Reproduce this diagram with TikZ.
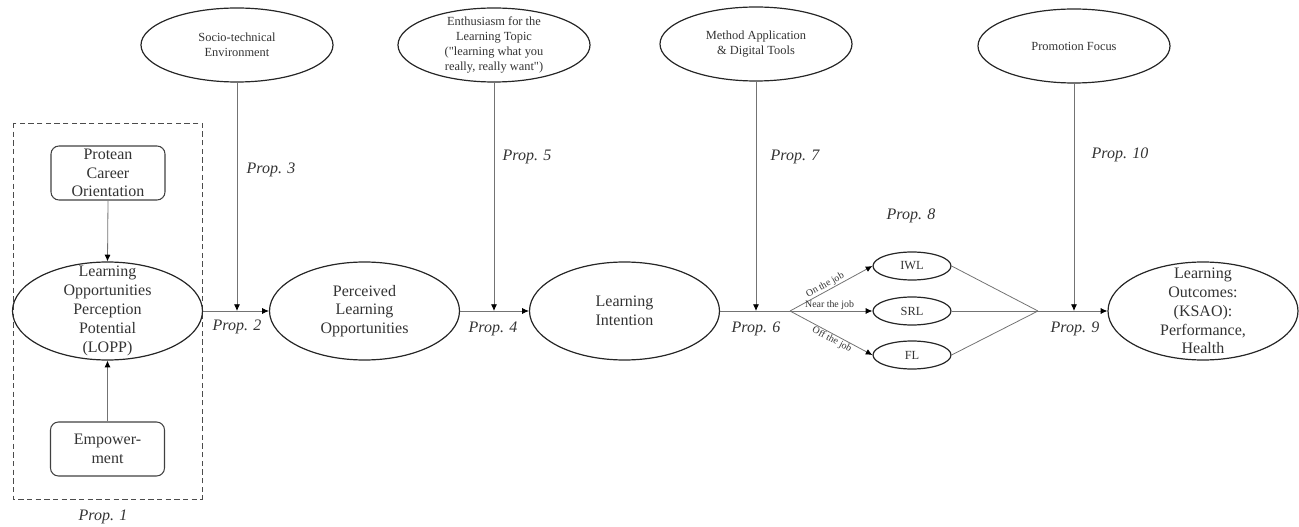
\documentclass[tikz,border=0pt]{standalone}
\usepackage{fontspec}
\setmainfont{Liberation Serif}
\usetikzlibrary{arrows.meta,shapes.geometric}
\begin{document}
\begin{tikzpicture}[x=0.75pt,y=-0.75pt,
  bigel/.style={draw=black!85, line width=0.9pt, ellipse, inner sep=0pt, minimum width=142.5pt, minimum height=73.5pt},
  topel/.style={draw=black!85, line width=0.9pt, ellipse, inner sep=0pt, minimum width=144pt, minimum height=55.5pt},
  smallel/.style={draw=black!85, line width=0.9pt, ellipse, inner sep=0pt, minimum width=58.5pt, minimum height=21pt},
  rbox/.style={draw=black!75, line width=0.8pt, rounded corners=6pt, inner sep=0pt, minimum width=85.5pt, minimum height=40.5pt},
  bigtxt/.style={align=center, text=black!80, font=\fontsize{12}{14.1}\selectfont, inner sep=0pt},
  smalltxt/.style={align=center, text=black!80, font=\fontsize{9.3}{11.3}\selectfont, inner sep=0pt},
  proplbl/.style={text=black!80, font=\fontsize{12}{14}\selectfont\itshape, inner sep=0pt},
  joblbl/.style={text=black!80, font=\fontsize{7.4}{9}\selectfont, inner sep=0.6pt, sloped},
  conn/.style={draw=black!55, line width=0.6pt},
  arr/.style={conn, -{Latex[length=5pt,width=4.5pt,color=black]}},
]
\useasboundingbox (0,0) rectangle (1299,527);

% dashed frame
\draw[black!70, line width=0.6pt, dash pattern=on 4pt off 2.5pt] (13,123) rectangle (202,499);

% left column
\node[rbox] (protean) at (108,173) {};
\node[bigtxt] (protean-t) at (protean) {Protean\\Career\\Orientation};
\node[bigel] (lopp) at (107.5,311) {};
\node[bigtxt] (lopp-t) at (lopp) {Learning\\Opportunities\\Perception\\Potential\\(LOPP)};
\node[rbox] (emp) at (107.5,449) {};
\node[bigtxt] (emp-t) at (emp) {Empower-\\ment};
\node[proplbl] (p1) at (103,517) {Prop. 1};

% main chain
\node[bigel] (perc) at (364.5,311) {};
\node[bigtxt] (perc-t) at (perc) {Perceived\\Learning\\Opportunities};
\node[bigel] (li) at (624.5,311) {};
\node[bigtxt] (li-t) at (li) {Learning\\Intention};
\node[bigel] (lo) at (1203,311) {};
\node[bigtxt] (lo-t) at (lo) {Learning\\Outcomes:\\(KSAO):\\Performance,\\Health};

% small ellipses
\node[smallel] (iwl) at (912,266) {};
\node[smalltxt] (iwl-t) at (iwl) {IWL};
\node[smallel] (srl) at (912,311) {};
\node[smalltxt] (srl-t) at (srl) {SRL};
\node[smallel] (fl) at (912,355) {};
\node[smalltxt] (fl-t) at (fl) {FL};

% top moderators
\node[topel] (socio) at (237,45) {};
\node[smalltxt] (socio-t) at (socio) {Socio-technical\\Environment};
\node[topel] (enth) at (494,45) {};
\node[smalltxt] (enth-t) at (enth) {Enthusiasm for the\\Learning Topic\\(\textquotedbl learning what you\\really, really want\textquotedbl)};
\node[topel] (meth) at (756,44) {};
\node[smalltxt] (meth-t) at (meth) {Method Application\\\&~Digital Tools};
\node[topel] (promo) at (1074,46) {};
\node[smalltxt] (promo-t) at (promo) {Promotion Focus};

% junction coordinates
\coordinate (j2) at (237,311);
\coordinate (j4) at (494,311);
\coordinate (j6) at (756,311);
\coordinate (j9) at (1074,311);
\coordinate (br) at (790,311);
\coordinate (mg) at (1038,311);

% connectors
\draw[arr] (protean.south) -- (lopp.north);
\draw[arr] (emp.north) -- (lopp.south);
\draw[arr] (lopp.east) -- (perc.west);
\draw[arr] (perc.east) -- (li.west);
\draw[conn] (li.east) -- (br);
\draw[arr] (br) -- (iwl.west) node[joblbl, pos=0.46, above] {On the job};
\draw[arr] (br) -- (srl.west) node[joblbl, pos=0.48, above] {Near the job};
\draw[arr] (br) -- (fl.west) node[joblbl, pos=0.54, below] {Off the job};
\draw[conn] (iwl.east) -- (mg);
\draw[conn] (srl.east) -- (mg);
\draw[conn] (fl.east) -- (mg);
\draw[arr] (mg) -- (lo.west);

\draw[arr] (socio.south) -- (j2);
\draw[arr] (enth.south) -- (j4);
\draw[arr] (meth.south) -- (j6);
\draw[arr] (promo.south) -- (j9);

% proposition labels
\node[proplbl] (p2) at (237,327) {Prop. 2};
\node[proplbl] (p3) at (271,170) {Prop. 3};
\node[proplbl] (p4) at (493,329) {Prop. 4};
\node[proplbl] (p5) at (527,157) {Prop. 5};
\node[proplbl] (p6) at (756,329) {Prop. 6};
\node[proplbl] (p7) at (795,157) {Prop. 7};
\node[proplbl] (p8) at (911,216) {Prop. 8};
\node[proplbl] (p9) at (1075,329) {Prop. 9};
\node[proplbl] (p10) at (1120,155) {Prop. 10};
\end{tikzpicture}
\end{document}
